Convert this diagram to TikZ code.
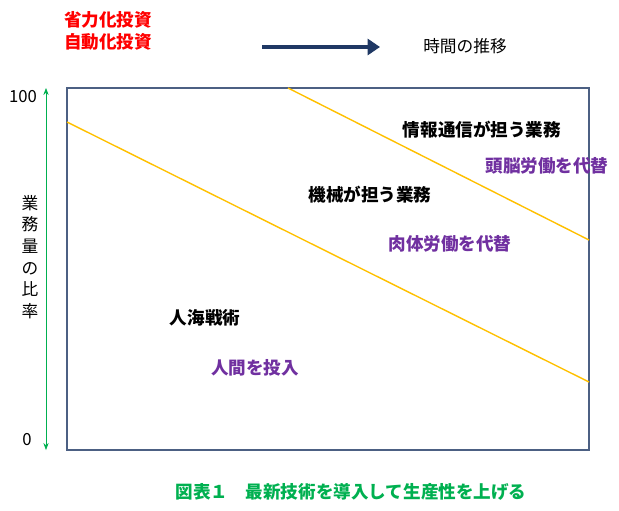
\documentclass[tikz,border=0pt]{standalone}
\usepackage{fontspec}
\setmainfont{Liberation Sans}
\newfontfamily\jp{Noto Sans CJK JP}
\usetikzlibrary{arrows.meta}
\definecolor{lineyellow}{RGB}{255,192,0}
\definecolor{labpurple}{RGB}{112,48,160}
\definecolor{navyarrow}{RGB}{31,56,100}
\definecolor{axgreen}{RGB}{0,176,80}
\begin{document}
\begin{tikzpicture}[x=0.2mm,y=-0.2mm,
  every node/.style={font=\jp\fontsize{9.5}{11}\selectfont,inner sep=1pt},
  task/.style={font=\jp\bfseries\fontsize{10}{11}\selectfont},
  subst/.style={task,text=labpurple},
  trend/.style={lineyellow,line width=0.8pt}]
\useasboundingbox (0,0) rectangle (619,510);
\draw[navyarrow!80,line width=0.6pt] (67,88) rectangle (589,450);
\coordinate (l1a) at (67,122);
\coordinate (l1b) at (589,382);
\coordinate (l2a) at (288,88);
\coordinate (l2b) at (589,240);
\draw[trend] (l1a) -- (l1b);
\draw[trend] (l2a) -- (l2b);
\coordinate (ytop) at (46,88);
\coordinate (ybot) at (46,450);
\draw[axgreen,{Stealth[length=4pt]}-{Stealth[length=4pt]}] (ytop) -- (ybot);
\node (hundred) at (23,97) {100};
\node (zero) at (27,440) {0};
\node[align=center,font=\jp\fontsize{9.5}{12.3}\selectfont] (ylabel) at (30,257) {業\\務\\量\\の\\比\\率};
\node[task,text=red,align=left,font=\jp\bfseries\fontsize{10}{12.5}\selectfont] (invest) at (108,31) {省力化投資\\自動化投資};
\coordinate (ta) at (262,47);
\coordinate (tb) at (380,47);
\draw[navyarrow,line width=2.2pt,-{Triangle[length=7pt,width=9pt]}] (ta) -- (tb);
\node (time) at (465,46) {時間の推移};
\node[task] (info) at (482,130) {情報通信が担う業務};
\node[subst] (brain) at (547,166) {頭脳労働を代替};
\node[task] (mach) at (370,195) {機械が担う業務};
\node[subst] (body) at (450,244) {肉体労働を代替};
\node[task] (human) at (205,318) {人海戦術};
\node[subst] (input) at (255,368) {人間を投入};
\node[task,text=axgreen] (caption) at (351,492) {図表１\quad 最新技術を導入して生産性を上げる};
\end{tikzpicture}
\end{document}
